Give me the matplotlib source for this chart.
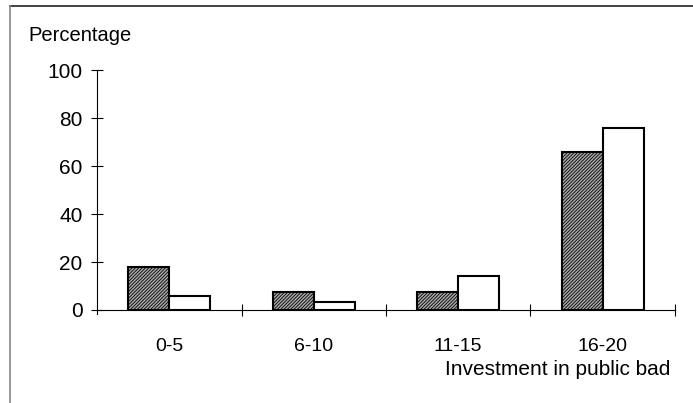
import matplotlib.pyplot as plt
from matplotlib.lines import Line2D

plt.rcParams['font.family'] = ['Liberation Sans', 'DejaVu Sans']
plt.rcParams['hatch.linewidth'] = 0.6

categories = ['0-5', '6-10', '11-15', '16-20']
series_hatched = [18, 7.5, 7.5, 66]
series_white = [6, 3.3, 14.2, 76]
y_ticks = [0, 20, 40, 60, 80, 100]

fig = plt.figure(figsize=(6.93, 4.03), dpi=100)
ax = fig.add_axes([0.14, 0.2308, 0.834, 0.595])

x = list(range(len(categories)))
w = 0.285
ax.bar([i - w / 2 for i in x], series_hatched, width=w, facecolor='#a8a8a8',
       edgecolor='black', linewidth=1.5, hatch='//////////')
ax.bar([i + w / 2 for i in x], series_white, width=w, facecolor='white',
       edgecolor='black', linewidth=1.5)

ax.set_xlim(-0.5, len(categories) - 0.5)
ax.set_ylim(0, 100)
ax.set_yticks(y_ticks)
ax.set_xticks(x)
ax.set_xticklabels(categories, fontsize=14)
ax.set_xticks([i + 0.5 for i in x], minor=True)
ax.tick_params(axis='x', which='major', length=0, pad=20)
ax.tick_params(axis='x', which='minor', direction='inout', length=9, width=0.8)
ax.tick_params(axis='y', direction='inout', length=9, width=0.8, labelsize=15, pad=6)

for s in ['top', 'right']:
    ax.spines[s].set_visible(False)
ax.spines['left'].set_linewidth(0.8)
ax.spines['bottom'].set_linewidth(0.8)
ax.spines['left'].set_bounds(-1.5, 100)
ax.spines['left'].set_position(('data', -0.5))

fig.text(0.041, 0.912, 'Percentage', fontsize=14.5, ha='left', va='center')
fig.text(0.967, 0.082, 'Investment in public bad', fontsize=15, ha='right', va='center')

# partial frame of the original figure box
fig.add_artist(Line2D([0.014, 1.0], [0.985, 0.985], color='#222222', lw=1.2, transform=fig.transFigure))
fig.add_artist(Line2D([0.014, 0.014], [0.0, 0.985], color='#888888', lw=1.2, transform=fig.transFigure))

fig.savefig('out.png', dpi=100)
